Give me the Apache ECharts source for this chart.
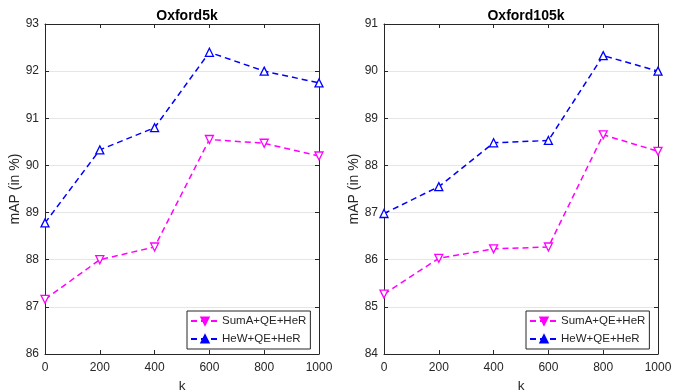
<!DOCTYPE html>
<html>
<head>
<meta charset="utf-8">
<script src="https://cdn.jsdelivr.net/npm/echarts@6/dist/echarts.min.js"></script>
<style>
  html, body { margin: 0; padding: 0; background: #fff; }
  #chart { width: 673px; height: 392px; }
</style>
</head>
<body>
<div id="chart"></div>
<script>
// k values on the x axis
let kValues = [0, 200, 400, 600, 800, 1000];

// Oxford5k
let sumA5k = [87.16, 88.0, 88.27, 90.55, 90.47, 90.2];
let heW5k = [88.78, 90.33, 90.8, 92.4, 92.0, 91.75];

// Oxford105k
let sumA105k = [85.27, 86.03, 86.23, 86.27, 88.65, 88.3];
let heW105k = [86.98, 87.55, 88.48, 88.53, 90.33, 90.0];

let titles = ['Oxford5k', 'Oxford105k'];
let seriesNames = ['SumA+QE+HeR', 'HeW+QE+HeR'];
let yRanges = [[86, 93], [84, 91]];

const txt = '#262626';
const magenta = '#ff00ff';
const blue = '#0000ff';
const font = 'Liberation Sans, Arial, Helvetica, sans-serif';

let pair = (xs, ys) => xs.map((x, i) => [x, ys[i]]);

let grids = [
    { left: 45, top: 24, width: 274, height: 330, outerBoundsMode: 'none', containLabel: false },
    { left: 384, top: 24, width: 274, height: 330, outerBoundsMode: 'none', containLabel: false }
];

let xAxes = [], yAxes = [];
[0, 1].forEach((g) => {
    let xBase = {
        type: 'value', gridIndex: g, min: 0, max: 1000, interval: 200,
        axisLine: { show: true, onZero: false, lineStyle: { color: txt, width: 1 } },
        axisTick: { show: true, inside: true, length: 4, lineStyle: { color: txt } },
        splitLine: { show: false }
    };
    xAxes.push(Object.assign({}, xBase, {
        position: 'bottom',
        name: 'k', nameLocation: 'middle', nameGap: 25,
        nameTextStyle: { color: txt, fontSize: 13.5, fontFamily: font },
        axisLabel: { color: txt, fontSize: 12, fontFamily: font, margin: 8, formatter: (v) => String(v) }
    }));
    xAxes.push(Object.assign({}, xBase, { position: 'top', axisLabel: { show: false } }));

    let yBase = {
        type: 'value', gridIndex: g, min: yRanges[g][0], max: yRanges[g][1], interval: 1,
        axisLine: { show: true, onZero: false, lineStyle: { color: txt, width: 1 } },
        axisTick: { show: true, inside: true, length: 4, lineStyle: { color: txt } }
    };
    yAxes.push(Object.assign({}, yBase, {
        position: 'left',
        name: 'mAP (in %)', nameLocation: 'middle', nameGap: 23,
        nameTextStyle: { color: txt, fontSize: 14, fontFamily: font },
        axisLabel: { color: txt, fontSize: 12, fontFamily: font, margin: 6 },
        splitLine: { show: true, lineStyle: { color: '#e6e6e6', width: 1 } }
    }));
    yAxes.push(Object.assign({}, yBase, {
        position: 'right', axisLabel: { show: false }, splitLine: { show: false }
    }));
});

let makeSeries = (name, data, g, color, rotate) => ({
    name: name, type: 'line', data: data,
    xAxisIndex: g * 2, yAxisIndex: g * 2,
    symbol: 'triangle', symbolSize: 8, symbolRotate: rotate,
    itemStyle: { color: '#fff', borderColor: color, borderWidth: 1.3 },
    lineStyle: { color: color, width: 1.5, type: [6, 4] },
    emphasis: { disabled: true },
    animation: false
});

let series = [
    makeSeries(seriesNames[0], pair(kValues, sumA5k), 0, magenta, 180),
    makeSeries(seriesNames[1], pair(kValues, heW5k), 0, blue, 0),
    makeSeries(seriesNames[0], pair(kValues, sumA105k), 1, magenta, 180),
    makeSeries(seriesNames[1], pair(kValues, heW105k), 1, blue, 0)
];

let makeLegend = (left) => ({
    orient: 'vertical', left: left, top: 311,
    backgroundColor: '#fff', borderColor: txt, borderWidth: 1, borderRadius: 0,
    padding: [4, 4, 4, 3],
    itemWidth: 28, itemHeight: 9, itemGap: 6,
    selectedMode: false,
    textStyle: { color: txt, fontSize: 11.5, fontFamily: font, padding: [0, 0, 0, -2] },
    data: [
        { name: seriesNames[0], itemStyle: { color: magenta, borderColor: magenta } },
        { name: seriesNames[1], itemStyle: { color: blue, borderColor: blue } }
    ]
});

let chart = echarts.init(document.getElementById('chart'), null, { renderer: 'canvas' });
chart.setOption({
    backgroundColor: '#fff',
    animation: false,
    title: titles.map((t, i) => ({
        text: t, left: grids[i].left + grids[i].width / 2, top: 4, textAlign: 'center',
        textStyle: { color: '#000', fontSize: 14, fontWeight: 'bold', fontFamily: font }
    })),
    legend: [makeLegend(187), makeLegend(526)],
    grid: grids,
    xAxis: xAxes,
    yAxis: yAxes,
    series: series
});
</script>
</body>
</html>
